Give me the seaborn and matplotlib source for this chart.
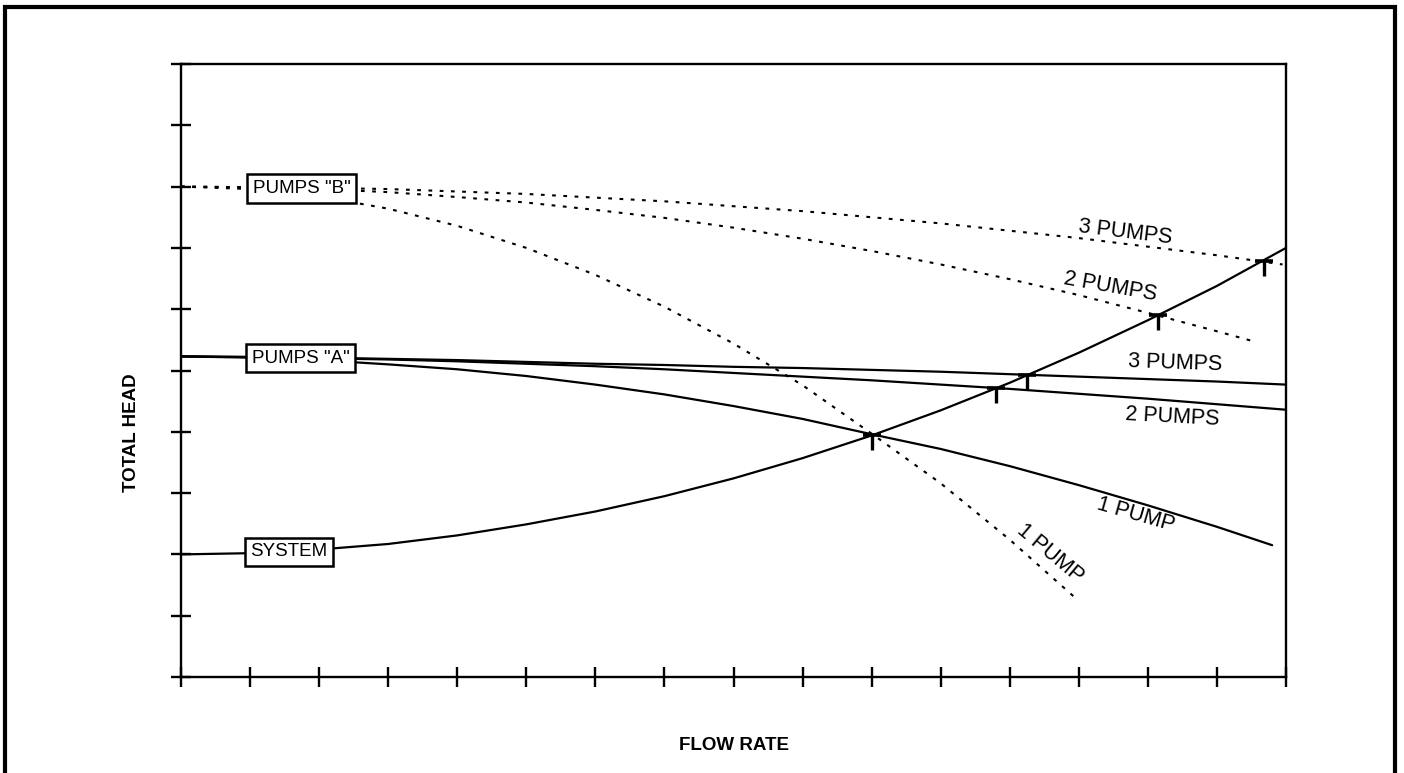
import matplotlib
matplotlib.use("Agg")
import matplotlib.pyplot as plt
import seaborn as sns
import pandas as pd
from matplotlib.patches import Rectangle

# ---- data (axis units: flow 0-16, head 0-10) ----
flow_grid = [0, 1, 2, 3, 4, 5, 6, 7, 8, 9, 10, 11, 12, 13, 14, 15, 16]

system_head = [2.00, 2.02, 2.08, 2.17, 2.31, 2.49, 2.70, 2.95, 3.24, 3.57,
               3.94, 4.35, 4.80, 5.29, 5.82, 6.38, 7.00]

# pumps "A" (solid curves)
a1_flow = [0, 1, 2, 3, 4, 5, 6, 7, 8, 9, 10, 11, 12, 13, 14, 15, 15.8]
a1_head = [5.23, 5.21, 5.17, 5.10, 5.02, 4.91, 4.77, 4.61, 4.42, 4.21,
           3.96, 3.72, 3.44, 3.13, 2.80, 2.45, 2.15]
a2_head = [5.23, 5.22, 5.20, 5.18, 5.15, 5.11, 5.07, 5.02, 4.96, 4.90,
           4.84, 4.77, 4.70, 4.62, 4.54, 4.45, 4.36]
a3_head = [5.23, 5.22, 5.21, 5.19, 5.17, 5.14, 5.11, 5.09, 5.06, 5.04,
           5.01, 4.98, 4.94, 4.90, 4.86, 4.82, 4.77]

# pumps "B" (dotted curves)
b1_flow = [0, 1, 2, 3, 4, 5, 6, 7, 8, 9, 10, 11, 12, 13]
b1_head = [8.00, 7.96, 7.84, 7.64, 7.36, 7.00, 6.56, 6.04, 5.44, 4.76,
           3.97, 3.16, 2.24, 1.24]
b2_flow = [0, 1, 2, 3, 4, 5, 6, 7, 8, 9, 10, 11, 12, 13, 14, 15, 15.55]
b2_head = [8.00, 7.99, 7.96, 7.91, 7.83, 7.74, 7.62, 7.49, 7.33, 7.15,
           6.95, 6.73, 6.49, 6.23, 5.94, 5.64, 5.47]
b3_flow = [0, 1, 2, 3, 4, 5, 6, 7, 8, 9, 10, 11, 12, 13, 14, 15, 15.95]
b3_head = [8.00, 7.99, 7.98, 7.96, 7.92, 7.88, 7.82, 7.76, 7.68, 7.60,
           7.50, 7.40, 7.28, 7.16, 7.02, 6.88, 6.73]

# operating points (system curve crossings)
op_flow = [10.0, 11.8, 12.25, 14.14, 15.68]
op_head = [3.95, 4.71, 4.93, 5.90, 6.79]

# curve labels: text, flow, head, rotation
curve_labels = [
    ("3 PUMPS", 13.67, 7.26, -7),
    ("2 PUMPS", 13.45, 6.36, -10),
    ("3 PUMPS", 14.39, 5.12, -2),
    ("2 PUMPS", 14.35, 4.24, -3),
    ("1 PUMP", 13.83, 2.64, -16),
    ("1 PUMP", 12.58, 2.02, -40),
]
# boxed labels: text, flow, head
box_labels = [
    ('PUMPS "B"', 1.745, 7.97),
    ('PUMPS "A"', 1.73, 5.20),
    ("SYSTEM", 1.56, 2.04),
]

# ---- styling ----
sns.set_style("white")
plt.rcParams["font.family"] = ["Liberation Sans", "DejaVu Sans"]
plt.rcParams["text.color"] = "black"

fig = plt.figure(figsize=(14.04, 7.73), dpi=100)
ax = fig.add_axes([181 / 1404, 1 - 677 / 773, (1286 - 181) / 1404, (677 - 64) / 773])

solid = dict(color="black", linewidth=1.6)
dotted = dict(color="black", linewidth=1.5, linestyle=(0, (1.8, 3.6)))

def draw(xs, ys, style):
    df = pd.DataFrame({"flow": xs, "head": ys})
    sns.lineplot(data=df, x="flow", y="head", ax=ax, sort=False,
                 estimator=None, legend=False, **style)

draw(flow_grid, system_head, solid)
draw(a1_flow, a1_head, solid)
draw(flow_grid, a2_head, solid)
draw(flow_grid, a3_head, solid)
draw(b1_flow, b1_head, dotted)
draw(b2_flow, b2_head, dotted)
draw(b3_flow, b3_head, dotted)

# "T" operating-point markers
ax.plot(op_flow, op_head, linestyle="none", marker="_", markersize=13,
        markeredgewidth=2.6, color="black", zorder=5)
ax.plot(op_flow, op_head, linestyle="none", marker=3, markersize=11,
        markeredgewidth=2.4, color="black", zorder=5)

for text, x, y, rot in curve_labels:
    ax.text(x, y, text, rotation=rot, rotation_mode="anchor", ha="center",
            va="center", fontsize=15.5, color="black")

for text, x, y in box_labels:
    ax.text(x, y, text, ha="center", va="center", fontsize=13.5, color="black",
            zorder=6,
            bbox=dict(boxstyle="square,pad=0.3", facecolor="white",
                      edgecolor="black", linewidth=1.8))

ax.set_xlim(0, 16)
ax.set_ylim(0, 10)
ax.set_xticks(range(0, 17))
ax.set_yticks(range(0, 11))
ax.set_xticklabels([])
ax.set_yticklabels([])
ax.tick_params(axis="both", which="major", direction="inout", length=15,
               width=1.7, color="black", bottom=True, left=True)
for side in ["left", "bottom", "right", "top"]:
    ax.spines[side].set_visible(True)
    ax.spines[side].set_color("black")
    ax.spines[side].set_linewidth(1.7)
ax.set_xlabel("")
ax.set_ylabel("")

fig.text(734 / 1404, 1 - 746 / 773, "FLOW RATE", ha="center", va="center",
         fontsize=13.5, fontweight="bold", color="black")
fig.text(131 / 1404, 1 - 433 / 773, "TOTAL HEAD", ha="center", va="center",
         rotation=90, fontsize=13.5, fontweight="bold", color="black")

# outer frame (open at the bottom edge of the page)
fig.add_artist(Rectangle((5 / 1404, -0.1), (1395 - 5) / 1404, 1.1 - 7.5 / 773,
                         transform=fig.transFigure, fill=False,
                         edgecolor="black", linewidth=3, clip_on=False))

fig.savefig("out.png", dpi=100, facecolor="white")
